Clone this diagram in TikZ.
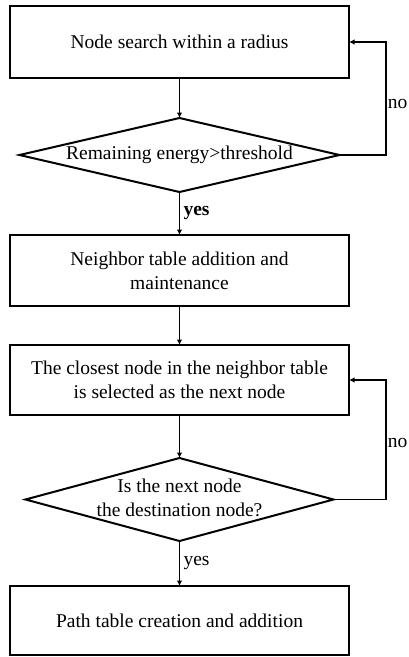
\documentclass[tikz,border=0pt]{standalone}
\usepackage{fontspec}
\setmainfont{Liberation Serif}
\usetikzlibrary{positioning,shapes.geometric,arrows.meta}

\begin{document}
\begin{tikzpicture}[node distance=40pt, font=\fontsize{19.5}{24}\selectfont,
	main/.style = {draw, line width=2pt, outer sep=0pt, inner sep=0pt, minimum width=339pt, align=center},
	cond/.style = {draw, diamond, line width=2pt, outer sep=0pt, inner sep=0pt},
	edge/.style = {-{Latex[length=5.5pt,width=5.5pt]}, line width=1.5pt},
	lbl/.style = {anchor=east, inner sep=0pt}]

	\useasboundingbox (0,0) rectangle (408pt,-657pt);
	\coordinate (r) at (386pt,0);

	\node[main, minimum height=72pt] (1) at (179.5pt,-42pt) {Node search within a radius};
	\node[cond, minimum width=320pt, minimum height=74pt] (2) [below=40pt of 1] {\makebox[0pt]{Remaining energy>threshold}};
	\node[main, minimum height=71pt] (3) [below=43pt of 2] {Neighbor table addition and\\maintenance};
	\node[main, minimum height=70pt] (4) [below=39pt of 3] {The closest node in the neighbor table\\is selected as the next node};
	\node[cond, minimum width=308pt, minimum height=83pt] (5) [below=43pt of 4] {\makebox[0pt]{\begin{tabular}{@{}c@{}}Is the next node\\the destination node?\end{tabular}}};
	\node[main, minimum height=69pt] (6) [below=45pt of 5] {Path table creation and addition};

	\path[edge]
	(1) edge node[] {} (2)
	(2) edge node[right] {\textbf{yes}} (3)
	(3) edge node[] {} (4)
	(4) edge node[] {} (5)
	(5) edge node[right] {yes} (6);

	% loops back on "no"
	\draw[edge] (2.east) -- (2.east -| r) |- (1.east);
	\draw[edge] (5.east) -- (5.east -| r) |- (4.east);
	\node[lbl] (no1) at (407.5pt,-104pt) {no};
	\node[lbl] (no2) at (407.5pt,-443pt) {no};

\end{tikzpicture}
\end{document}
